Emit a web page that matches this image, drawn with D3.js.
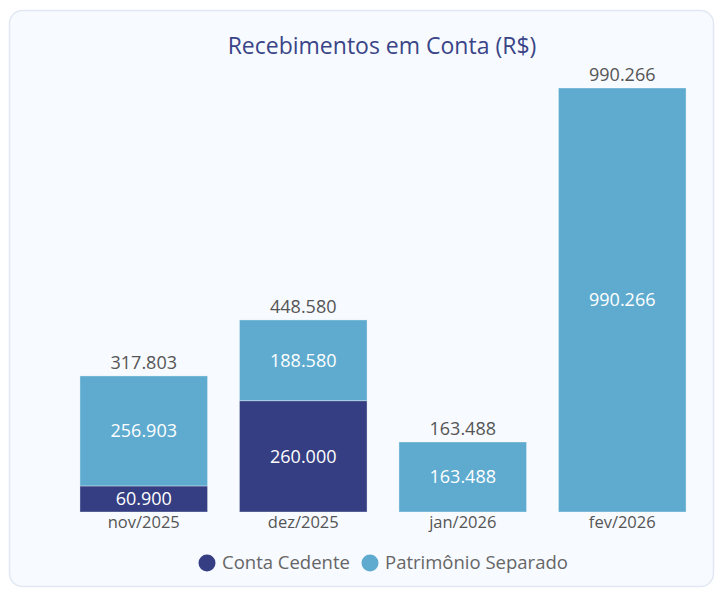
<!DOCTYPE html>
<html>
<head>
<meta charset="utf-8">
<script src="https://cdn.jsdelivr.net/npm/d3@7"></script>
<style>
  body { margin: 0; background: #ffffff; }
  svg { display: block; font-family: "Open Sans", "Noto Sans", sans-serif; }
</style>
</head>
<body>
<svg id="chart"></svg>
<script>
// data
var months = ["nov/2025", "dez/2025", "jan/2026", "fev/2026"];
var contaCedente = [60900, 260000, 0, 0];
var patrimonioSeparado = [256903, 188580, 163488, 990266];
var seriesNames = ["Conta Cedente", "Patrimônio Separado"];
var seriesColors = ["#353e82", "#5eabcf"];

var width = 716,
    height = 589;

var svg = d3.select("#chart")
    .attr("width", width)
    .attr("height", height);

// card
svg.append("rect")
    .attr("x", 9.5).attr("y", 10.5)
    .attr("width", 704).attr("height", 576)
    .attr("rx", 13)
    .attr("fill", "#f7faff")
    .attr("stroke", "#e2e8f3")
    .attr("stroke-width", 1.5);

svg.append("text")
    .attr("x", 382).attr("y", 54)
    .attr("text-anchor", "middle")
    .attr("font-size", 23)
    .attr("fill", "#3a4587")
    .text("Recebimentos em Conta (R$)");

var x = d3.scaleBand()
    .domain(months)
    .range([64, 702])
    .paddingInner(0.2)
    .paddingOuter(0.1);

var y = d3.scaleLinear()
    .domain([0, 990266])
    .range([512, 88]);

var rows = months.map(function(m, i) {
    return { month: m, cedente: contaCedente[i], patrimonio: patrimonioSeparado[i] };
});
var stack = d3.stack().keys(["cedente", "patrimonio"])(rows);

var g = svg.append("g");
stack.forEach(function(layer, k) {
    var segs = layer.filter(function(d) { return d[1] - d[0] > 0; });
    g.selectAll(null)
        .data(segs)
        .enter()
        .append("rect")
        .attr("x", function(d) { return x(d.data.month); })
        .attr("y", function(d) { return y(d[1]); })
        .attr("width", x.bandwidth())
        .attr("height", function(d) { return y(d[0]) - y(d[1]); })
        .attr("fill", seriesColors[k])
        .attr("stroke", "rgba(255,255,255,0.35)")
        .attr("stroke-width", 1);

    g.selectAll(null)
        .data(segs)
        .enter()
        .append("text")
        .attr("x", function(d) { return x(d.data.month) + x.bandwidth() / 2; })
        .attr("y", function(d) { return (y(d[0]) + y(d[1])) / 2; })
        .attr("dy", "0.35em")
        .attr("text-anchor", "middle")
        .attr("font-size", 18)
        .attr("fill", "#ffffff")
        .text(function(d) { return (d[1] - d[0]).toLocaleString("pt-BR"); });
});

// totals
g.selectAll(".total")
    .data(rows)
    .enter()
    .append("text")
    .attr("class", "total")
    .attr("x", function(d) { return x(d.month) + x.bandwidth() / 2; })
    .attr("y", function(d) { return y(d.cedente + d.patrimonio) - 7; })
    .attr("text-anchor", "middle")
    .attr("font-size", 18)
    .attr("fill", "#555555")
    .text(function(d) { return (d.cedente + d.patrimonio).toLocaleString("pt-BR"); });

// x axis labels
var xAxis = svg.append("g")
    .attr("transform", "translate(0,512)")
    .call(d3.axisBottom(x).tickSize(0).tickPadding(4));
xAxis.select(".domain").remove();
xAxis.selectAll("text")
    .attr("font-size", 16.5)
    .attr("font-family", "\"Open Sans\", sans-serif")
    .attr("fill", "#555555");

// legend
var legend = svg.append("g").attr("transform", "translate(0,563)");
var legendX = [207, 370];
seriesNames.forEach(function(name, i) {
    legend.append("circle")
        .attr("cx", legendX[i]).attr("cy", 0)
        .attr("r", 8.5)
        .attr("fill", seriesColors[i]);
    legend.append("text")
        .attr("x", legendX[i] + 15).attr("y", 0)
        .attr("dy", "0.35em")
        .attr("font-size", 18.5)
        .attr("fill", "#666666")
        .text(name);
});
</script>
</body>
</html>
